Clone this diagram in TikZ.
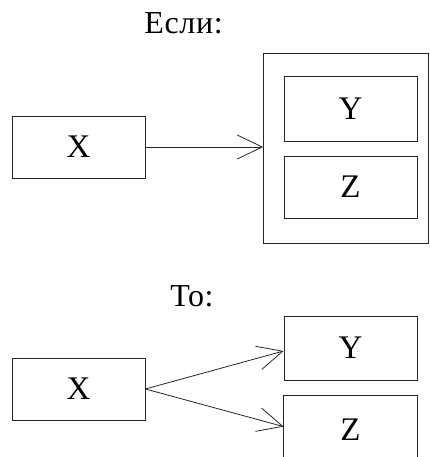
\documentclass[tikz,border=0pt]{standalone}
\usepackage{fontspec}
\setmainfont{Liberation Serif}
\usetikzlibrary{arrows.meta}
\tikzset{
  box/.style={draw=black!85, line width=0.8pt, rectangle, inner sep=0pt, font=\fontsize{33}{36}\selectfont},
  lbl/.style={inner sep=0pt, font=\fontsize{32}{36}\selectfont\addfontfeature{LetterSpace=2}},
  conn/.style={draw=black!85, line width=0.8pt, -{Straight Barb[length=25pt,width=24pt,line width=0.8pt]}}
}
\begin{document}
\begin{tikzpicture}[x=1pt,y=-1pt]
\useasboundingbox (0,0) rectangle (429,457);
% top part
\node[lbl] (if) at (183.5,23) {Если:};
\node[box, minimum width=133pt, minimum height=62pt] (x1) at (78.5,147) {X};
\node[box, minimum width=165pt, minimum height=190pt] (outer) at (346,148) {};
\node[box, minimum width=133pt, minimum height=65pt] (y1) at (350.5,108.5) {Y};
\node[box, minimum width=133pt, minimum height=62pt] (z1) at (350.5,187) {Z};
\draw[conn] (x1.east) -- (outer.west |- x1.east);
% bottom part
\node[lbl] (then) at (192,296) {То:};
\node[box, minimum width=133pt, minimum height=62pt] (x2) at (78.5,389) {X};
\node[box, minimum width=133pt, minimum height=64pt] (y2) at (350.5,348) {Y};
\node[box, draw=none, minimum width=133pt, minimum height=68pt] (z2) at (350.5,430) {Z};
\draw[draw=black!85, line width=0.8pt] (z2.south west) -- (z2.north west) -- (z2.north east) -- (z2.south east);
\draw[conn] (x2.east) -- ([yshift=-3pt]y2.west);
\draw[conn] (x2.east) -- ([yshift=-31pt]z2.north west);
\end{tikzpicture}
\end{document}
